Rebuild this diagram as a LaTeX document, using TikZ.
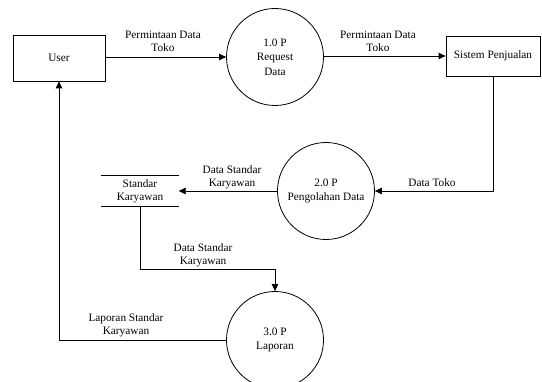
\documentclass[tikz,border=0pt]{standalone}
\usepackage{fontspec}
\setmainfont{Liberation Serif}
\usetikzlibrary{arrows.meta}

\begin{document}
\begin{tikzpicture}[x=1pt,y=-1pt,
  every node/.style={font=\fontsize{11.3}{13}\selectfont, align=center, inner sep=0pt},
  entity/.style={draw, line width=0.8pt, minimum width=92pt, minimum height=46pt},
  process/.style={draw, circle, line width=0.8pt, minimum size=97pt,
                  font=\fontsize{11.3}{14.5}\selectfont},
  datastore/.style={minimum width=77pt, minimum height=31pt},
  flow/.style={line width=0.8pt, -{Triangle[length=7pt,width=6.5pt]}},
  flowlabel/.style={fill=none}
]
\useasboundingbox (0,0) rectangle (542,382);
\clip (0,0) rectangle (542,382);

% external entities
\node[entity] (user) at (59,58) {User};
\node[entity, minimum width=94pt, minimum height=40pt] (sis) at (493,56) {Sistem Penjualan};

% processes
\node[process] (p1) at (275,57) {1.0 P\\Request\\Data};
\node[process] (p2) at (326,191) {2.0 P\\Pengolahan Data};
\node[process] (p3) at (275,340) {3.0 P\\Laporan};

% data store drawn as two horizontal rules
\node[datastore] (store) at (140,191) {Standar\\Karyawan};
\draw[line width=0.8pt] (store.north west) -- (store.north east);
\draw[line width=0.8pt] (store.south west) -- (store.south east);

% data flows
\draw[flow] (user.east |- p1.west) -- (p1.west);
\draw[flow] (p1.east |- sis.west) -- (sis.west);
\draw[flow] (sis.south) |- (p2.east);
\draw[flow] (p2.west) -- (store.east);
\coordinate (bend) at (140,269);
\draw[flow] (store.south) -- (bend) -| (p3.north);
\draw[flow] (p3.west) -| (user.south);

% flow labels
\node[flowlabel] at (163,41) {Permintaan Data\\Toko};
\node[flowlabel] at (378,41) {Permintaan Data\\Toko};
\node[flowlabel] at (432,183) {Data Toko};
\node[flowlabel] at (232,177) {Data Standar\\Karyawan};
\node[flowlabel] at (203,255) {Data Standar\\Karyawan};
\node[flowlabel] at (126,325) {Laporan Standar\\Karyawan};
\end{tikzpicture}
\end{document}
